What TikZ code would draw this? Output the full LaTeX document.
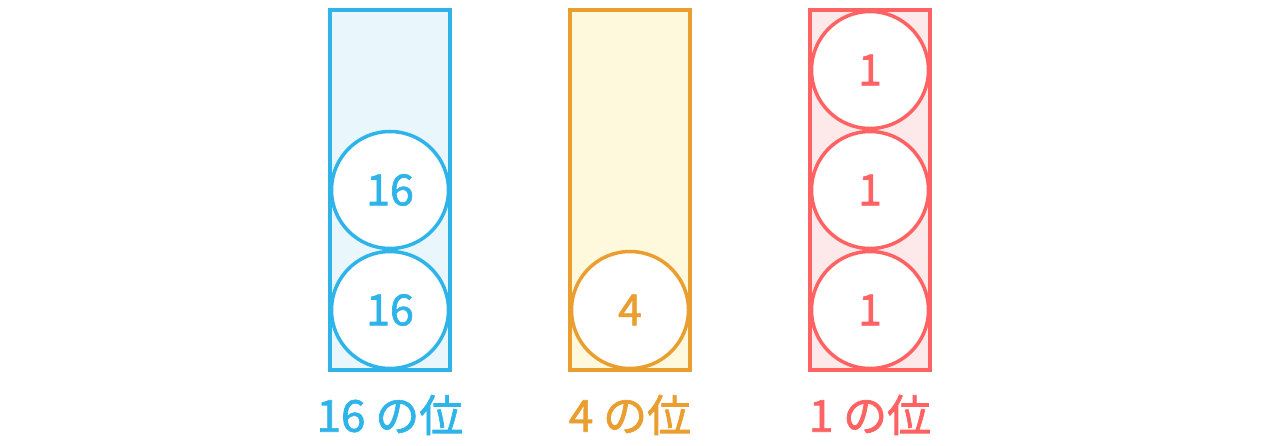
\documentclass[tikz,border=0pt]{standalone}
\usepackage{fontspec}
\setmainfont{Noto Sans CJK JP}
\newfontfamily\heavy{Noto Sans CJK JP}[FakeBold=1.6]
\definecolor{cb}{HTML}{2FB4EA}
\definecolor{cbf}{HTML}{E9F7FD}
\definecolor{co}{HTML}{E99E2F}
\definecolor{cof}{HTML}{FEF8DD}
\definecolor{cr}{HTML}{FF6262}
\definecolor{crf}{HTML}{FDE9E9}
\begin{document}
\begin{tikzpicture}[x=1pt,y=-1pt,
  col/.style={draw=#1,line width=3.5pt},
  coin/.style={circle,draw=#1,fill=white,line width=3.5pt,minimum size=117pt,inner sep=0pt,text=#1,font=\heavy\fontsize{43}{43}\selectfont},
  lab/.style={text=#1,font=\heavy\fontsize{44}{44}\selectfont,inner sep=0pt}]
\useasboundingbox (0,0) rectangle (1274,446);
\draw[col=cb,fill=cbf] (330,10) rectangle (450,370);
\draw[col=co,fill=cof] (570,10) rectangle (690,370);
\draw[col=cr,fill=crf] (810,10) rectangle (930,370);
\node[coin=cb] (b1) at (390,190) {16};
\node[coin=cb] (b2) at (390,310) {16};
\node[coin=co] (o1) at (630,310) {4};
\node[coin=cr] (r1) at (870,70) {1};
\node[coin=cr] (r2) at (870,190) {1};
\node[coin=cr] (r3) at (870,310) {1};
\node[lab=cb] (lb) at (390,415) {16 の位};
\node[lab=co] (lo) at (630,415) {4 の位};
\node[lab=cr] (lr) at (870,415) {1 の位};
\end{tikzpicture}
\end{document}
